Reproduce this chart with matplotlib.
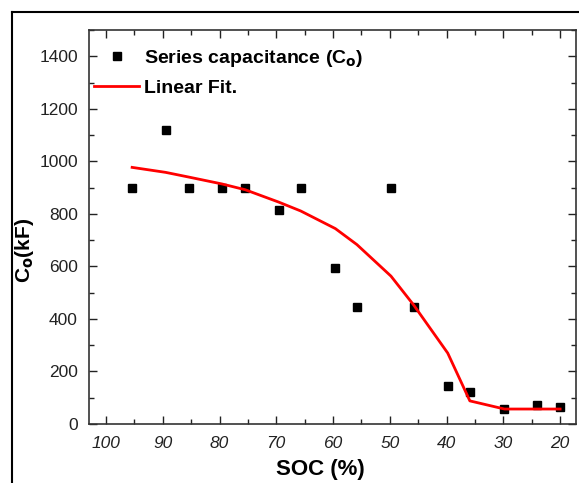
import matplotlib.pyplot as plt
from matplotlib.lines import Line2D
from matplotlib.ticker import MultipleLocator

plt.rcParams['font.family'] = ['Liberation Sans', 'DejaVu Sans']

# data
soc = [95.4, 89.5, 85.4, 79.6, 75.5, 69.6, 65.7, 59.6, 55.8, 49.8, 45.8, 39.8, 35.9, 29.8, 24.1, 20.0]
cap = [900, 1120, 900, 900, 900, 813, 900, 595, 445, 900, 445, 145, 123, 58, 72, 63]
fit = [977, 958, 940, 914, 892, 845, 811, 744, 683, 563, 453, 270, 88, 57, 57, 57]

fig = plt.figure(figsize=(5.79, 4.83), dpi=100)
ax = fig.add_axes([89/579, 1 - 424/483, (576-89)/579, (424-30)/483])

ax.plot(soc, cap, 's', color='black', markersize=6, label='Series capacitance (C$_\\mathbf{o}$)')
ax.plot(soc, fit, '-', color='red', linewidth=2, label='Linear Fit.')

ax.set_xlim(103, 17.2)
ax.set_ylim(0, 1500)
ax.xaxis.set_major_locator(MultipleLocator(10))
ax.xaxis.set_minor_locator(MultipleLocator(5))
ax.yaxis.set_major_locator(MultipleLocator(200))
ax.yaxis.set_minor_locator(MultipleLocator(100))
ax.set_yticks(range(0, 1401, 200))
ax.tick_params(which='both', direction='in', top=True, right=True, labelsize=12.5, colors='#222222')
ax.tick_params(which='major', length=6, width=1)
ax.tick_params(which='minor', length=3.5, width=1)
ax.tick_params(axis='y', pad=8)
ax.tick_params(axis='x', pad=9)
for lbl in ax.get_xticklabels():
    lbl.set_fontstyle('italic')
for s in ax.spines.values():
    s.set_linewidth(1.2)
    s.set_color('#333333')

ax.set_xlabel('SOC (%)', fontsize=16, fontweight='bold')
ax.xaxis.set_label_coords(0.475, -0.09)
ax.set_ylabel('C$_\\mathbf{o}$(kF)', fontsize=15, fontweight='bold')
ax.yaxis.set_label_coords(-0.108, 0.44)

leg = ax.legend(loc='upper left', frameon=False, prop={'weight': 'bold', 'size': 14},
                handlelength=2.3, borderaxespad=0.2, handletextpad=0.25, labelspacing=0.55,
                bbox_to_anchor=(-0.013, 0.985))

# outer frame lines (top and left only)
fig.add_artist(Line2D([12/579, 1], [1 - 12/483, 1 - 12/483], color='black', linewidth=1.5))
fig.add_artist(Line2D([12/579, 12/579], [0, 1 - 12/483], color='black', linewidth=1.5))

fig.savefig('out.png', dpi=100)
